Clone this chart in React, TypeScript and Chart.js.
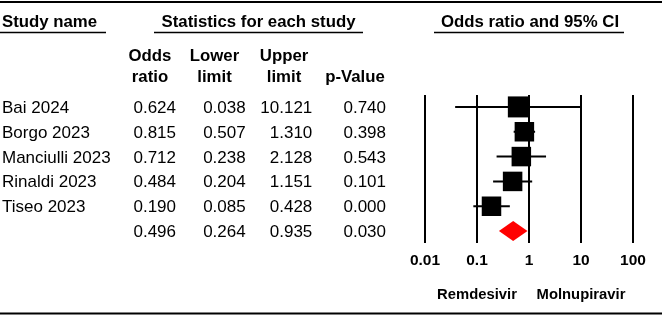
import { useEffect, useRef } from "react";
import { Chart, registerables } from "chart.js";

Chart.register(...registerables);

// Study-level results (odds ratio with 95% CI)
const STUDY_NAMES = ["Bai 2024", "Borgo 2023", "Manciulli 2023", "Rinaldi 2023", "Tiseo 2023"];
const ODDS_RATIOS = [0.624, 0.815, 0.712, 0.484, 0.19];
const LOWER_LIMITS = [0.038, 0.507, 0.238, 0.204, 0.085];
const UPPER_LIMITS = [10.121, 1.31, 2.128, 1.151, 0.428];
const P_VALUES = [0.74, 0.398, 0.543, 0.101, 0.0];

// Pooled estimate
const SUMMARY_OR = 0.496;
const SUMMARY_LOWER = 0.264;
const SUMMARY_UPPER = 0.935;
const SUMMARY_P = 0.03;

// Log axis
const AXIS_TICKS = [0.01, 0.1, 1, 10, 100];
const AXIS_TICK_LABELS = ["0.01", "0.1", "1", "10", "100"];
const FAVOURS_LABELS = ["Remdesivir", "Molnupiravir"];
const FAVOURS_AT = [0.1, 10];

const FONT = '"Liberation Sans", Arial, Helvetica, sans-serif';
const SQUARE_SIDES = [21, 19.5, 19.5, 19.5, 19.5];
const SUMMARY_ROW = STUDY_NAMES.length;

const fmt = (v: number) => v.toFixed(3);

const forestPlugin = {
  id: "forestTable",
  afterDatasetsDraw(chart: any) {
    const { ctx, scales } = chart;
    const xs = scales.x;
    const ys = scales.y;

    // pooled estimate diamond
    const yc = ys.getPixelForValue(SUMMARY_ROW);
    ctx.save();
    ctx.fillStyle = "#ff0000";
    ctx.beginPath();
    ctx.moveTo(xs.getPixelForValue(SUMMARY_LOWER), yc);
    ctx.lineTo(xs.getPixelForValue(SUMMARY_OR), yc - 10);
    ctx.lineTo(xs.getPixelForValue(SUMMARY_UPPER), yc);
    ctx.lineTo(xs.getPixelForValue(SUMMARY_OR), yc + 10);
    ctx.closePath();
    ctx.fill();
    ctx.restore();
  },
  afterDraw(chart: any) {
    const { ctx, scales } = chart;
    const xs = scales.x;
    const ys = scales.y;
    ctx.save();

    const hline = (x1: number, x2: number, y: number, w: number) => {
      ctx.lineWidth = w;
      ctx.strokeStyle = "#000";
      ctx.beginPath();
      ctx.moveTo(x1, y);
      ctx.lineTo(x2, y);
      ctx.stroke();
    };
    hline(0, 662, 2, 2);
    hline(0, 106, 32.5, 1.5);
    hline(154, 363, 32.5, 1.5);
    hline(434, 624, 32.5, 1.5);
    hline(0, 662, 313.5, 2);

    ctx.fillStyle = "#000";
    ctx.textBaseline = "alphabetic";

    // section headers
    ctx.font = `bold 16.8px ${FONT}`;
    ctx.textAlign = "left";
    ctx.fillText("Study name", 2, 27);
    ctx.textAlign = "center";
    ctx.fillText("Statistics for each study", 258.5, 27);
    ctx.fillText("Odds ratio and 95% CI", 530, 27);

    // column headers
    const colCenters = [150, 214.5, 284, 355];
    const colHead1 = ["Odds", "Lower", "Upper", ""];
    const colHead2 = ["ratio", "limit", "limit", "p-Value"];
    colCenters.forEach((cx, i) => {
      if (colHead1[i]) ctx.fillText(colHead1[i], cx, 61);
      ctx.fillText(colHead2[i], cx, 81.5);
    });

    // rows
    const colRight = [176, 245.7, 312.3, 386];
    ctx.font = `17px ${FONT}`;
    STUDY_NAMES.forEach((name, i) => {
      const by = ys.getPixelForValue(i) + 6;
      ctx.textAlign = "left";
      ctx.fillText(name, 2, by);
      ctx.textAlign = "right";
      const vals = [ODDS_RATIOS[i], LOWER_LIMITS[i], UPPER_LIMITS[i], P_VALUES[i]];
      vals.forEach((v, j) => ctx.fillText(fmt(v), colRight[j], by));
    });
    const sy = ys.getPixelForValue(SUMMARY_ROW) + 6;
    ctx.textAlign = "right";
    [SUMMARY_OR, SUMMARY_LOWER, SUMMARY_UPPER, SUMMARY_P].forEach((v, j) =>
      ctx.fillText(fmt(v), colRight[j], sy)
    );

    // favours labels under the axis
    ctx.font = `bold 14.8px ${FONT}`;
    ctx.textAlign = "center";
    FAVOURS_LABELS.forEach((lab, i) => {
      ctx.fillText(lab, xs.getPixelForValue(FAVOURS_AT[i]), 298.5);
    });

    ctx.restore();
  },
};

export default function App() {
  const canvasRef = useRef<HTMLCanvasElement | null>(null);

  useEffect(() => {
    const canvas = canvasRef.current;
    if (!canvas) return;

    const ciDatasets = STUDY_NAMES.map((name, i) => ({
      type: "line" as const,
      label: name + " CI",
      data: [
        { x: LOWER_LIMITS[i], y: i },
        { x: UPPER_LIMITS[i], y: i },
      ],
      borderColor: "#000",
      borderWidth: 2,
      pointRadius: 0,
      fill: false,
      order: 2,
    }));

    const chart = new Chart(canvas, {
      type: "scatter",
      data: {
        datasets: [
          {
            label: "Odds ratio",
            data: ODDS_RATIOS.map((v, i) => ({ x: v, y: i })),
            pointStyle: "rect",
            pointRadius: SQUARE_SIDES.map((s) => s / (2 * Math.SQRT1_2)),
            backgroundColor: "#000",
            borderWidth: 0,
            order: 0,
          } as any,
          ...ciDatasets,
        ],
      },
      options: {
        responsive: false,
        maintainAspectRatio: false,
        devicePixelRatio: 1,
        animation: false,
        layout: { padding: { top: 95, left: 425, right: 33, bottom: 0 } },
        plugins: {
          legend: { display: false },
          tooltip: { enabled: false },
        },
        scales: {
          x: {
            type: "logarithmic",
            min: 0.01,
            max: 100,
            afterBuildTicks: (scale: any) => {
              scale.ticks = AXIS_TICKS.map((v) => ({ value: v }));
            },
            afterFit: (scale: any) => {
              scale.height = 73;
            },
            grid: { color: "#000", lineWidth: 2, drawTicks: false },
            border: { display: false },
            ticks: {
              autoSkip: false,
              maxRotation: 0,
              padding: 8,
              color: "#000",
              font: { family: FONT, size: 15.5, weight: "bold" },
              callback: (_v: any, i: number) => AXIS_TICK_LABELS[i],
            },
          },
          y: {
            type: "linear",
            display: false,
            reverse: true,
            min: -0.48,
            max: SUMMARY_ROW + 0.48,
          },
        },
      },
      plugins: [forestPlugin],
    } as any);

    return () => chart.destroy();
  }, []);

  return (
    <div style={{ position: "fixed", left: 0, top: 0, width: 666, height: 316, background: "#fff" }}>
      <canvas ref={canvasRef} width={666} height={316} style={{ display: "block" }} />
    </div>
  );
}
